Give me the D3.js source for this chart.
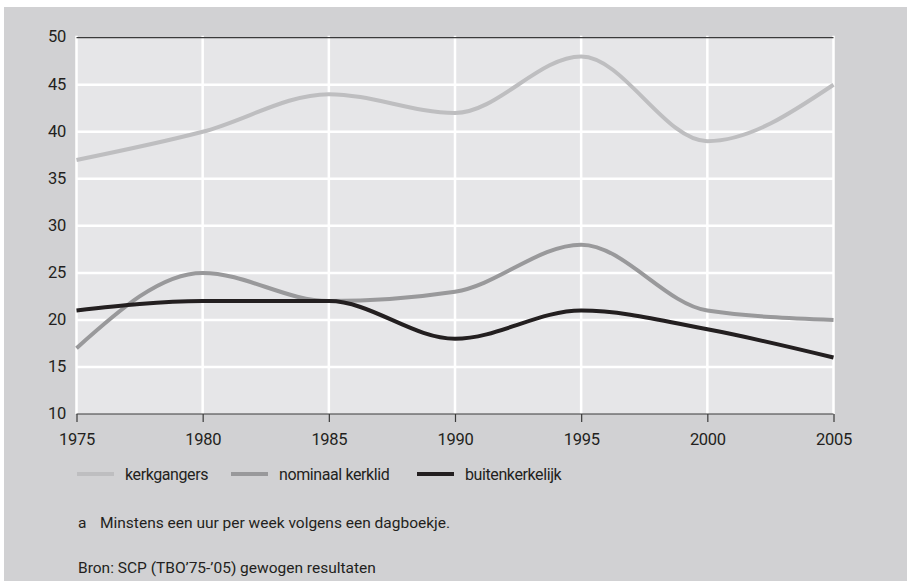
<!DOCTYPE html>
<meta charset="utf-8">
<style>
body { margin: 0; background: #fff; }
svg text { font-family: "Roboto", sans-serif; fill: #231f20; }
</style>
<svg width="907" height="581"></svg>
<script src="https://cdn.jsdelivr.net/npm/d3@7"></script>
<script>

var years = [1975, 1980, 1985, 1990, 1995, 2000, 2005];
var kerkgangers = [37, 40, 44, 42, 48, 39, 45];
var nominaal = [17, 25, 22, 23, 28, 21, 20];
var buitenkerkelijk = [21, 22, 22, 18, 21, 19, 16];
var yTicks = [10, 15, 20, 25, 30, 35, 40, 45, 50];
var seriesNames = ["kerkgangers", "nominaal kerklid", "buitenkerkelijk"];
var footnote = "Minstens een uur per week volgens een dagboekje.";
var source = "Bron: SCP (TBO\u201975-\u201905) gewogen resultaten";

var svg = d3.select("svg");

var x = d3.scaleLinear().domain([1975, 2005]).range([76.5, 833.5]);
var y = d3.scaleLinear().domain([10, 50]).range([414, 37.7]);

// backgrounds
svg.append("rect").attr("x", 4).attr("y", 7).attr("width", 903).attr("height", 574)
    .attr("fill", "#d1d1d3");
svg.append("rect").attr("x", x(1975)).attr("y", y(50)).attr("width", x(2005) - x(1975))
    .attr("height", y(10) - y(50)).attr("fill", "#e6e6e8");

// grid
svg.append("g").selectAll("line").data(yTicks.slice(1, -1)).enter().append("line")
    .attr("x1", x(1975)).attr("x2", x(2005))
    .attr("y1", function(d) { return y(d); }).attr("y2", function(d) { return y(d); })
    .attr("stroke", "#fff").attr("stroke-width", 2.5);
svg.append("g").selectAll("line").data(years).enter().append("line")
    .attr("x1", function(d) { return x(d); }).attr("x2", function(d) { return x(d); })
    .attr("y1", y(50) - 2).attr("y2", y(10))
    .attr("stroke", "#fff").attr("stroke-width", 2.5);

// top line
svg.append("line").attr("x1", x(1975)).attr("x2", x(2005)).attr("y1", y(50)).attr("y2", y(50))
    .attr("stroke", "#3a3a3a").attr("stroke-width", 1.2);

// x axis
var xAxis = svg.append("g").attr("transform", "translate(0," + y(10) + ")")
    .call(d3.axisBottom(x).tickValues(years).tickFormat(d3.format("d")).tickSize(8).tickPadding(11));
xAxis.select(".domain").attr("stroke", "#3a3a3a").attr("stroke-width", 1.2).attr("d", "M" + x(1975) + ",0H" + x(2005));
xAxis.selectAll(".tick line").attr("stroke", "#3a3a3a").attr("stroke-width", 1.2);
xAxis.selectAll(".tick text").attr("font-size", 16.5).attr("letter-spacing", "-0.3px")
    .attr("font-family", "Roboto, sans-serif").attr("fill", "#231f20");

// y labels
svg.append("g").selectAll("text").data(yTicks).enter().append("text")
    .attr("x", 66).attr("y", function(d) { return y(d) - 1; }).attr("dy", "0.35em")
    .attr("text-anchor", "end").attr("font-size", 16.5).attr("letter-spacing", "-0.3px")
    .text(function(d) { return d; });

var colors = ["#bebec0", "#99999b", "#231f20"];
var data = [kerkgangers, nominaal, buitenkerkelijk];

var line = d3.line()
    .x(function(d, i) { return x(years[i]); })
    .y(function(d) { return y(d); })
    .curve(d3.curveMonotoneX);

svg.append("g").selectAll("path").data(data).enter().append("path")
    .attr("d", line).attr("fill", "none")
    .attr("stroke", function(d, i) { return colors[i]; })
    .attr("stroke-width", 4);

// legend
var legendX = [77, 231, 417];
var lg = svg.append("g").selectAll("g").data(seriesNames).enter().append("g")
    .attr("transform", function(d, i) { return "translate(" + legendX[i] + ",474)"; });
lg.append("line").attr("x1", 0).attr("x2", 37).attr("y1", 0).attr("y2", 0)
    .attr("stroke", function(d, i) { return colors[i]; }).attr("stroke-width", 4);
lg.append("text").attr("x", 48).attr("dy", "0.35em").attr("font-size", 16)
    .attr("letter-spacing", "-0.4px")
    .text(function(d) { return d; });

// notes
svg.append("text").attr("x", 78).attr("y", 523).attr("dy", "0.35em").attr("font-size", 15.5).text("a");
svg.append("text").attr("x", 100).attr("y", 523).attr("dy", "0.35em").attr("font-size", 15.5).text(footnote);
svg.append("text").attr("x", 78).attr("y", 568).attr("dy", "0.35em").attr("font-size", 15.5).text(source);

</script>
